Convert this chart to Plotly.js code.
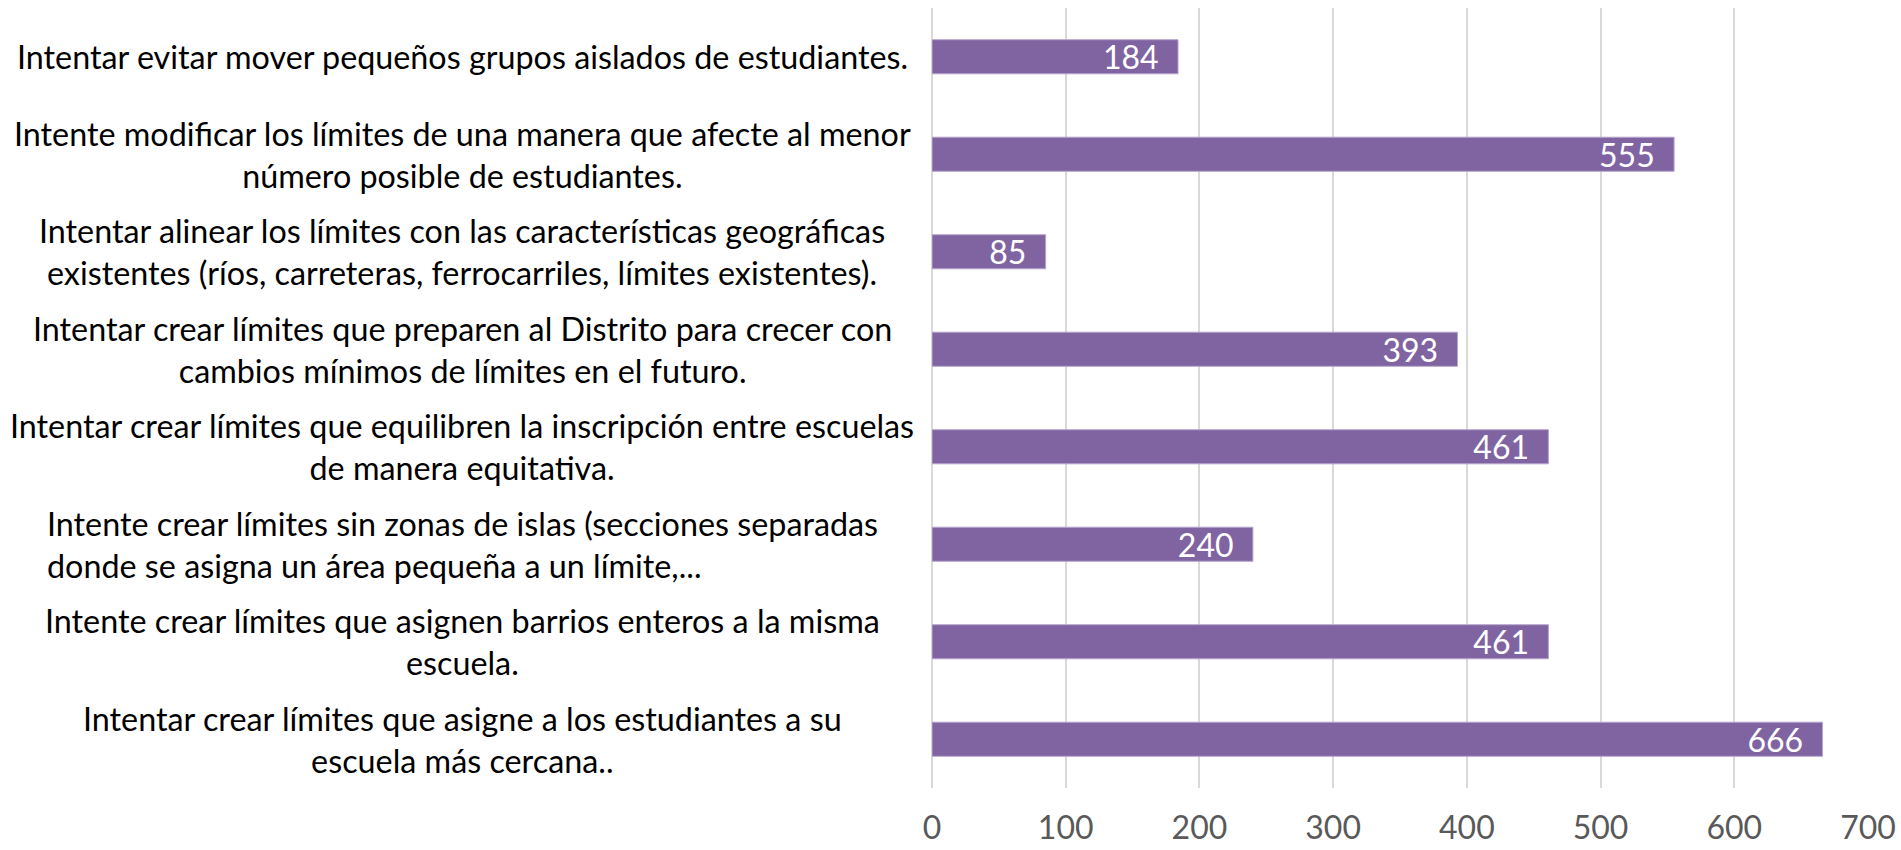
<!DOCTYPE html>
<html>
<head>
<meta charset="utf-8">
<script src="https://cdn.plot.ly/plotly-3.0.1.min.js"></script>
<style>
html,body{margin:0;padding:0;background:#fff;}
#chart{width:1901px;height:850px;}
</style>
</head>
<body>
<div id="chart"></div>
<script>
var categories = [
  "Intentar evitar mover pequeños grupos aislados de estudiantes.",
  "Intente modificar los límites de una manera que afecte al menor<br>número posible de estudiantes.",
  "Intentar alinear los límites con las características geográficas<br>existentes (ríos, carreteras, ferrocarriles, límites existentes).",
  "Intentar crear límites que preparen al Distrito para crecer con<br>cambios mínimos de límites en el futuro.",
  "Intentar crear límites que equilibren la inscripción entre escuelas<br>de manera equitativa.",
  "Intente crear límites sin zonas de islas (secciones separadas<br>donde se asigna un área pequeña a un límite,...",
  "Intente crear límites que asignen barrios enteros a la misma<br>escuela.",
  "Intentar crear límites que asigne a los estudiantes a su<br>escuela más cercana.."
];
var values = [184, 555, 85, 393, 461, 240, 461, 666];
var tickValues = [0, 100, 200, 300, 400, 500, 600, 700];

var FONT = "Lato, 'Open Sans', sans-serif";

var trace = {
  type: "bar",
  orientation: "h",
  x: values,
  y: categories,
  marker: {color: "#8064A2", line: {color: "#B7A6CE", width: 1}},
  text: values.map(String),
  texttemplate: "%{text}\u00a0\u00a0",
  textposition: "inside",
  insidetextanchor: "end",
  textangle: 0,
  constraintext: "none",
  textfont: {family: FONT, size: 32, color: "#FFFFFF"},
  hoverinfo: "x+y"
};

var annotations = categories.map(function (c, i) {
  return {
    xref: "paper", yref: "y",
    x: -0.502, y: c,
    text: c,
    showarrow: false,
    xanchor: "center", yanchor: "middle",
    align: (i === 5) ? "left" : "center",
    font: {family: FONT, size: 32.3, color: "#000000"}
  };
});

var layout = {
  width: 1901, height: 850,
  margin: {l: 932, r: 33, t: 8, b: 62},
  paper_bgcolor: "#FFFFFF",
  plot_bgcolor: "#FFFFFF",
  showlegend: false,
  bargap: 0.65,
  xaxis: {
    range: [0, 700],
    tickvals: tickValues,
    ticktext: tickValues.map(String),
    showgrid: true,
    gridcolor: "#D9D9D9",
    gridwidth: 2,
    zeroline: true,
    zerolinecolor: "#D9D9D9",
    zerolinewidth: 2,
    showline: false,
    ticks: "",
    ticklabelstandoff: 18,
    tickfont: {family: FONT, size: 32, color: "#595959"}
  },
  yaxis: {
    type: "category",
    categoryorder: "array",
    categoryarray: categories,
    autorange: "reversed",
    showticklabels: false,
    showgrid: false,
    zeroline: false,
    showline: false,
    ticks: ""
  },
  annotations: annotations
};

Plotly.newPlot("chart", [trace], layout, {displayModeBar: false, staticPlot: true});
</script>
</body>
</html>
